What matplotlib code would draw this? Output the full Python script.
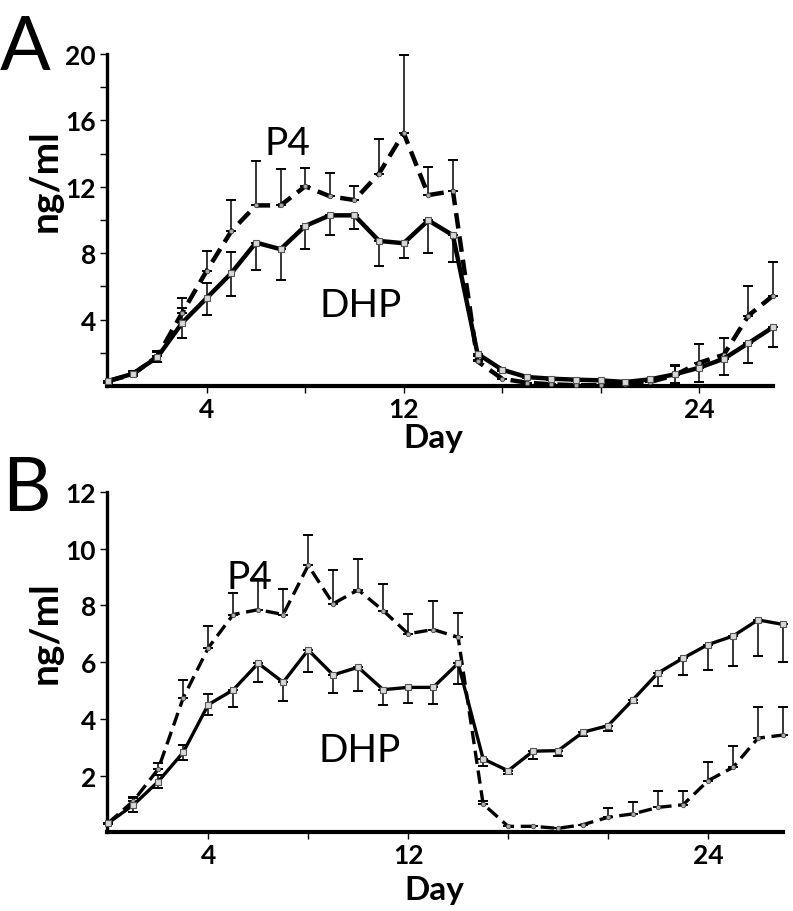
import matplotlib
matplotlib.use("Agg")
import matplotlib.pyplot as plt
import numpy as np

plt.rcParams['font.family'] = ['Lato', 'DejaVu Sans']

days = list(range(28))

# Panel A
a_p4 = [0.3, 0.7, 1.8, 4.4, 6.94, 9.33, 10.88, 10.88, 12.03, 11.43, 11.2, 12.8, 15.24, 11.5,
        11.74, 1.48, 0.44, 0.2, 0.1, 0.05, 0.05, 0.1, 0.24, 0.64, 1.4, 1.88, 4.24, 5.44]
a_p4_err = [0, 0.1, 0.3, 0.9, 1.2, 1.9, 2.7, 2.2, 1.1, 1.4, 0.85, 2.1, 4.7, 1.7,
            1.9, 0.1, 0, 0, 0, 0, 0, 0, 0, 0.6, 1.14, 1.0, 1.8, 2.0]
a_dhp = [0.3, 0.74, 1.74, 3.8, 5.3, 6.8, 8.64, 8.24, 9.64, 10.28, 10.28, 8.74, 8.6, 9.98,
         9.08, 1.94, 0.98, 0.54, 0.44, 0.38, 0.34, 0.24, 0.4, 0.7, 1.1, 1.64, 2.58, 3.54]
a_dhp_err_lo = [0.1, 0.15, 0.3, 0.9, 1.0, 1.38, 1.64, 1.84, 1.4, 1.2, 0.8, 1.5, 0.86, 1.94,
                1.64, 0.15, 0.1, 0.05, 0.05, 0.05, 0.05, 0.05, 0.05, 0.5, 0.86, 0.96, 1.2, 1.2]
a_dhp_err_hi = [0, 0.15, 0.3, 0.9, 0.9, 1.3, 0, 0, 0, 0, 0, 0, 0, 0,
                0, 0, 0, 0, 0, 0, 0, 0, 0, 0.5, 0, 0, 0, 0]

# Panel B
b_p4 = [0.33, 1.1, 2.23, 4.74, 6.5, 7.68, 7.85, 7.68, 9.41, 8.06, 8.55, 7.82, 7.0, 7.15,
        6.88, 1.0, 0.21, 0.21, 0.14, 0.27, 0.53, 0.65, 0.88, 0.97, 1.82, 2.29, 3.32, 3.43]
b_p4_err = [0, 0.15, 0.2, 0.64, 0.79, 0.75, 1.08, 0.9, 1.08, 1.18, 1.09, 0.94, 0.7, 1.0,
            0.86, 0.1, 0, 0, 0, 0, 0.33, 0.41, 0.56, 0.49, 0.65, 0.76, 1.09, 0.98]
b_dhp = [0.33, 0.96, 1.79, 2.82, 4.5, 5.02, 5.96, 5.29, 6.43, 5.55, 5.82, 5.03, 5.11, 5.11,
         5.96, 2.59, 2.17, 2.86, 2.88, 3.53, 3.76, 4.68, 5.62, 6.14, 6.62, 6.92, 7.49, 7.33]
b_dhp_err_lo = [0.05, 0.26, 0.23, 0.26, 0.38, 0.61, 0.65, 0.65, 0.79, 0.65, 0.85, 0.53, 0.56, 0.6,
                0.74, 0.24, 0.12, 0.27, 0.18, 0.15, 0.2, 0.12, 0.45, 0.61, 0.89, 1.04, 1.29, 1.33]
b_dhp_err_hi = [0, 0.26, 0.23, 0.26, 0.38, 0, 0, 0, 0, 0, 0, 0, 0, 0,
                0, 0, 0, 0, 0, 0, 0, 0, 0, 0, 0, 0, 0, 0]

x_ticks = [4, 8, 12, 16, 20, 24]
x_ticklabels = ['4', '', '12', '', '', '24']
a_yticks = [2, 4, 6, 8, 10, 12, 14, 16, 18, 20]
a_yticklabels = ['', '4', '', '8', '', '12', '', '16', '', '20']
b_yticks = [2, 4, 6, 8, 10, 12]
b_yticklabels = ['2', '4', '6', '8', '10', '12']

W, H = 793, 912
fig = plt.figure(figsize=(W / 100, H / 100), dpi=100)


def panel(rect, p4, p4_err, dhp, dlo, dhi, ymax, yticks, ylabels, lw, dash,
          p4_txt, dhp_txt, ylab_xy, xlab_xy):
    ax = fig.add_axes(rect)
    n = len(days)
    ax.errorbar(days, p4, yerr=[[0] * n, p4_err], fmt='none', ecolor='black',
                elinewidth=1.1, capsize=3.5, capthick=1.4, zorder=2, clip_on=False)
    ax.errorbar(days, dhp, yerr=[dlo, dhi], fmt='none', ecolor='black',
                elinewidth=1.1, capsize=3.5, capthick=1.4, zorder=2, clip_on=False)
    ax.plot(days, p4, color='black', lw=lw, dashes=dash, zorder=3,
            marker='o', ms=3.2, mfc='#aaaaaa', mec='#444444', mew=0.6, clip_on=False)
    ax.plot(days, dhp, color='black', lw=lw, zorder=4,
            marker='s', ms=4.6, mfc='#d8d8d8', mec='#555555', mew=0.8, clip_on=False)
    ax.set_xlim(-0.05, 27.0)
    ax.set_ylim(0, ymax)
    ax.spines['top'].set_visible(False)
    ax.spines['right'].set_visible(False)
    ax.spines['left'].set_linewidth(2.4)
    ax.spines['bottom'].set_linewidth(3.0)
    ax.set_xticks(x_ticks)
    ax.set_xticklabels(x_ticklabels, fontsize=19, fontweight='bold')
    ax.set_yticks(yticks)
    ax.set_yticklabels(ylabels, fontsize=19, fontweight='bold')
    ax.tick_params(axis='both', direction='out', length=5, width=1, pad=3)
    ax.set_xlabel('Day', fontsize=24, fontweight='bold')
    ax.set_ylabel('ng/ml', fontsize=28, fontweight='bold')
    ax.yaxis.set_label_coords(*ylab_xy)
    ax.xaxis.set_label_coords(*xlab_xy)
    ax.text(p4_txt[0], p4_txt[1], 'P4', fontsize=28, ha='left', va='baseline')
    ax.text(dhp_txt[0], dhp_txt[1], 'DHP', fontsize=28, ha='left', va='baseline')
    return ax


axA = panel([107 / W, 1 - 387 / H, 666 / W, 332 / H], a_p4, a_p4_err, a_dhp,
            a_dhp_err_lo, a_dhp_err_hi, 20, a_yticks, a_yticklabels, 3.2, (3.5, 1.8),
            (6.35, 14.0), (8.6, 4.2), (-0.066, 0.62), (0.49, -0.112))
axB = panel([107 / W, 1 - 833.3 / H, 676 / W, 340.3 / H], b_p4, b_p4_err, b_dhp,
            b_dhp_err_lo, b_dhp_err_hi, 12, b_yticks, b_yticklabels, 2.4, (4, 2),
            (4.75, 8.6), (8.4, 2.5), (-0.065, 0.59), (0.484, -0.125))

fig.text(0 / W, 1 - 70 / H, 'A', fontsize=54, ha='left', va='baseline')
fig.text(2 / W, 1 - 511 / H, 'B', fontsize=54, ha='left', va='baseline')

fig.savefig('out.png', dpi=100)
